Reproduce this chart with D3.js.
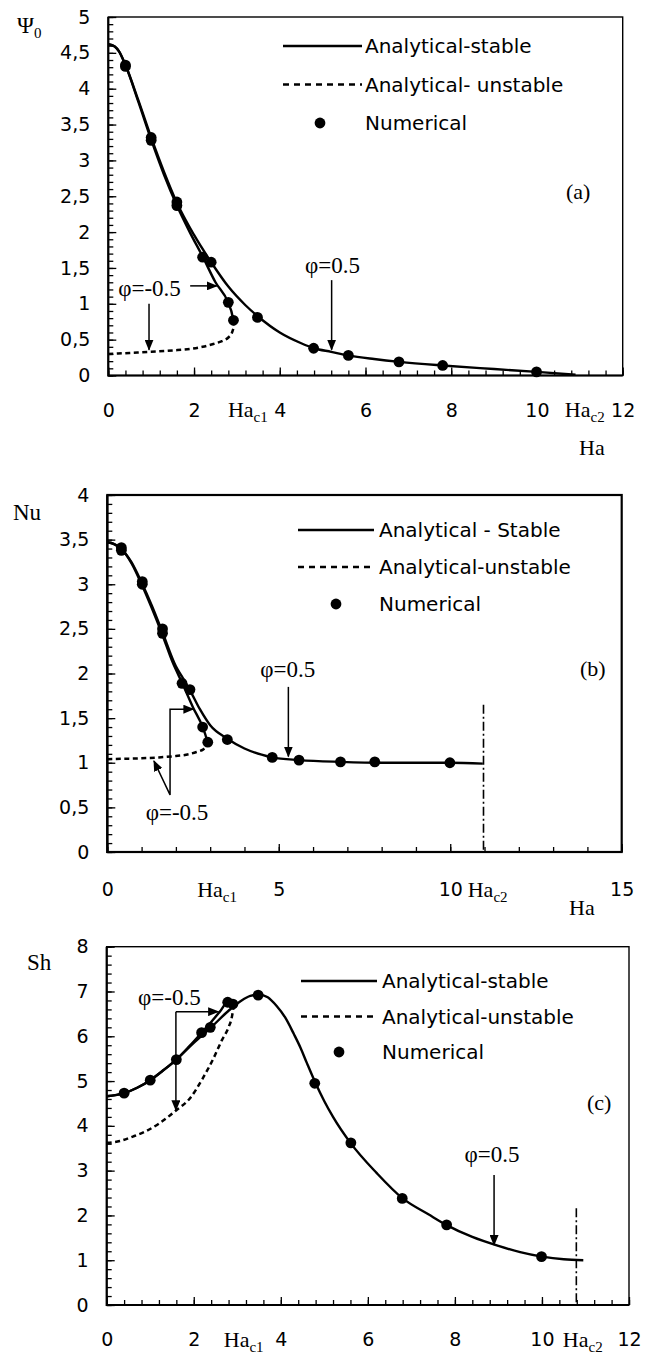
<!DOCTYPE html>
<html>
<head>
<meta charset="utf-8">
<script src="https://cdn.jsdelivr.net/npm/d3@7"></script>
<style>
body { margin: 0; background: #fff; }
svg { display: block; }
</style>
</head>
<body>
<div id="fig"></div>
<script>
// ---------- data ----------
// (a) stream function Psi0 vs Ha
const psiStable = [[0,4.62],[0.15,4.59],[0.25,4.52],[0.4,4.33],[0.7,3.84],[1.0,3.32],[1.3,2.84],[1.6,2.41],[2.0,1.96],[2.4,1.58],[2.8,1.24],[3.2,0.98],[3.5,0.82],[4.0,0.6],[4.5,0.45],[4.8,0.38],[5.2,0.33],[5.6,0.28],[6.2,0.23],[6.8,0.19],[7.8,0.14],[9.0,0.09],[10.0,0.05],[10.9,0.01]];
const psiStableNeg = [[0,4.62],[0.15,4.59],[0.25,4.52],[0.4,4.33],[0.7,3.82],[1.0,3.29],[1.3,2.8],[1.6,2.37],[1.9,2.0],[2.2,1.66],[2.5,1.3],[2.8,1.01],[2.9,0.82],[2.93,0.7]];
const psiUnstable = [[0,0.3],[0.5,0.315],[1.0,0.33],[1.5,0.35],[1.9,0.37],[2.2,0.4],[2.45,0.44],[2.65,0.48],[2.8,0.53],[2.88,0.59],[2.93,0.68]];
const psiNum = [[0.4,4.31],[0.4,4.33],[1.0,3.32],[1.0,3.28],[1.6,2.42],[1.6,2.37],[2.2,1.65],[2.4,1.58],[2.8,1.02],[2.92,0.77],[3.48,0.81],[4.79,0.38],[5.6,0.28],[6.78,0.19],[7.8,0.14],[9.99,0.05]];

// (b) Nusselt number vs Ha
const nuStable = [[0,3.47],[0.2,3.45],[0.4,3.4],[0.7,3.25],[1.0,3.02],[1.3,2.76],[1.6,2.47],[2.0,2.08],[2.2,1.95],[2.4,1.82],[2.7,1.6],[3.0,1.42],[3.5,1.27],[4.0,1.16],[4.5,1.09],[4.8,1.06],[5.6,1.03],[6.8,1.01],[8.0,1.0],[10.0,1.0],[10.95,0.99]];
const nuStableNeg = [[0,3.47],[0.2,3.45],[0.4,3.4],[0.7,3.24],[1.0,3.0],[1.3,2.73],[1.6,2.44],[1.9,2.13],[2.2,1.88],[2.5,1.62],[2.78,1.4],[2.9,1.26],[2.94,1.19]];
const nuUnstable = [[0,1.04],[0.5,1.045],[1.0,1.05],[1.5,1.06],[2.0,1.075],[2.3,1.09],[2.6,1.12],[2.8,1.15],[2.9,1.18],[2.94,1.2]];
const nuNum = [[0.41,3.41],[0.41,3.38],[1.02,3.03],[1.02,3.0],[1.61,2.5],[1.61,2.45],[2.18,1.89],[2.41,1.82],[2.78,1.4],[2.93,1.23],[3.5,1.26],[4.81,1.06],[5.59,1.03],[6.8,1.01],[7.8,1.01],[9.99,1.0]];

// (c) Sherwood number vs Ha
const shStable = [[0,4.66],[0.4,4.73],[0.7,4.85],[1.0,5.02],[1.3,5.24],[1.6,5.48],[2.0,5.85],[2.4,6.2],[2.8,6.57],[3.1,6.8],[3.3,6.9],[3.5,6.93],[3.7,6.87],[3.9,6.68],[4.1,6.42],[4.3,6.05],[4.45,5.75],[4.6,5.4],[4.8,4.95],[5.0,4.55],[5.2,4.2],[5.6,3.62],[6.2,2.95],[6.8,2.38],[7.4,2.02],[7.8,1.79],[8.4,1.52],[9.0,1.32],[9.5,1.18],[10.0,1.08],[10.5,1.02],[10.95,1.0]];
const shStableNeg = [[0,4.66],[0.4,4.73],[0.7,4.85],[1.0,5.02],[1.3,5.24],[1.6,5.48],[1.9,5.78],[2.18,6.08],[2.4,6.32],[2.6,6.55],[2.78,6.76],[2.92,6.72]];
const shUnstable = [[0,3.62],[0.3,3.66],[0.6,3.76],[0.9,3.88],[1.2,4.05],[1.6,4.35],[1.9,4.6],[2.2,5.05],[2.45,5.5],[2.65,5.92],[2.8,6.2],[2.88,6.45],[2.92,6.7]];
const shNum = [[0.4,4.73],[1.0,5.02],[1.6,5.48],[2.18,6.08],[2.38,6.2],[2.78,6.76],[2.9,6.72],[3.48,6.92],[4.78,4.95],[5.61,3.62],[6.79,2.38],[7.81,1.79],[9.99,1.08]];

// tick values and labels
const xTicksA = [0, 2, 4, 6, 8, 10, 12];
const xTicksB = [0, 5, 10, 15];
const xTicksC = [0, 2, 4, 6, 8, 10, 12];
const yTicksA = [0, 0.5, 1, 1.5, 2, 2.5, 3, 3.5, 4, 4.5, 5];
const yTicksB = [0, 0.5, 1, 1.5, 2, 2.5, 3, 3.5, 4];
const yTicksC = [0, 1, 2, 3, 4, 5, 6, 7, 8];
const critA = [{ha: 2.79, sub: 'c1'}, {ha: 10.65, sub: 'c2'}];
const critB = [{ha: 2.62, sub: 'c1'}, {ha: 10.51, sub: 'c2'}];
const critC = [{ha: 2.69, sub: 'c1'}, {ha: 10.48, sub: 'c2'}];
const legendA = ['Analytical-stable', 'Analytical- unstable', 'Numerical'];
const legendB = ['Analytical - Stable', 'Analytical-unstable', 'Numerical'];
const legendC = ['Analytical-stable', 'Analytical-unstable', 'Numerical'];

// annotations, in data units
const notesA = [{ha: 0.23, v: 1.11, t: 'φ=-0.5'}, {ha: 4.59, v: 1.43, t: 'φ=0.5'}];
const arrowsA = [[[1.91,1.25],[2.53,1.25]], [[0.95,1.0],[0.95,0.36]], [[5.21,1.33],[5.21,0.36]]];
const notesB = [{ha: 4.46, v: 1.96, t: 'φ=0.5'}, {ha: 1.12, v: 0.36, t: 'φ=-0.5'}];
const arrowsB = [[[5.28,1.85],[5.28,1.07]]];
const bracketB = [[2.51,1.6],[1.83,1.6],[1.83,0.64],[1.36,1.02]];
const notesC = [{ha: 0.72, v: 6.7, t: 'φ=-0.5'}, {ha: 8.22, v: 3.2, t: 'φ=0.5'}];
const arrowsC = [[[1.59,6.55],[2.56,6.55]], [[1.59,6.55],[1.59,4.35]], [[8.9,2.9],[8.9,1.34]]];
const dashDotB = [10.97, 1.65];
const dashDotC = [10.79, 2.16];

// ---------- drawing ----------
const width = 652;
const height = 1359;
const sans = 'DejaVu Sans, sans-serif';
const serif = 'Liberation Serif, Times New Roman, serif';
const commaFmt = d => String(d).replace('.', ',');

const svg = d3.select('#fig')
    .append('svg')
    .attr('width', width)
    .attr('height', height);

const defs = svg.append('defs');
defs.append('marker')
    .attr('id', 'head')
    .attr('markerUnits', 'userSpaceOnUse')
    .attr('markerWidth', 11)
    .attr('markerHeight', 9)
    .attr('refX', 10)
    .attr('refY', 4.5)
    .attr('orient', 'auto-start-reverse')
    .append('path')
    .attr('d', 'M0,0 L11,4.5 L0,9 Z')
    .attr('fill', '#000');

function drawPanel(p) {
    const x = d3.scaleLinear().domain([0, p.xMax]).range([p.left, p.right]);
    const y = d3.scaleLinear().domain([0, p.yMax]).range([p.bottom, p.top]);
    const g = svg.append('g');

    // frame
    g.append('rect')
     .attr('x', p.left).attr('y', p.top)
     .attr('width', p.right - p.left).attr('height', p.bottom - p.top)
     .attr('fill', 'none').attr('stroke', '#000').attr('stroke-width', p.frame);

    // minor ticks
    g.append('g')
     .attr('transform', 'translate(' + p.left + ',0)')
     .call(d3.axisLeft(y).tickValues(d3.range(0, p.yMax + 1e-9, p.yMinor)).tickSizeInner(-5).tickSizeOuter(0).tickFormat(''))
     .call(s => s.select('.domain').remove());
    g.append('g')
     .attr('transform', 'translate(0,' + p.bottom + ')')
     .call(d3.axisBottom(x).tickValues(d3.range(0, p.xMax + 1e-9, p.xMinor)).tickSizeInner(-5).tickSizeOuter(0).tickFormat(''))
     .call(s => s.select('.domain').remove());

    // major ticks + labels
    g.append('g')
     .attr('transform', 'translate(' + p.left + ',0)')
     .call(d3.axisLeft(y).tickValues(p.yTicks).tickSizeInner(-8).tickSizeOuter(0).tickPadding(18).tickFormat(commaFmt))
     .attr('font-family', sans).attr('font-size', 19)
     .call(s => s.select('.domain').remove());
    g.append('g')
     .attr('transform', 'translate(0,' + p.bottom + ')')
     .call(d3.axisBottom(x).tickValues(p.xTicks).tickSizeInner(-8).tickSizeOuter(0).tickPadding(p.xPad).tickFormat(d => d))
     .attr('font-family', sans).attr('font-size', 19)
     .call(s => s.select('.domain').remove());
    g.selectAll('.tick line').attr('stroke-width', 1.3);

    // heavier left and bottom axis lines
    g.append('path')
     .attr('d', 'M' + p.left + ',' + p.top + 'V' + p.bottom + 'H' + p.right)
     .attr('fill', 'none').attr('stroke', '#000').attr('stroke-width', 2.2);

    // critical Hartmann labels on the x axis
    const base = p.bottom + p.xPad + 13.5;
    p.crit.forEach(c => {
        const t = g.append('text')
                   .attr('x', x(c.ha)).attr('y', base)
                   .attr('font-family', serif).attr('font-size', 22)
                   .text('Ha');
        t.append('tspan').attr('font-size', 15).attr('dy', 5).text(c.sub);
    });

    // axis titles
    const yt = g.append('text')
                .attr('x', p.yTitle[0]).attr('y', p.yTitle[1])
                .attr('font-family', serif).attr('font-size', 23)
                .text(p.yName);
    if (p.ySub) {
        yt.append('tspan').attr('font-size', 15).attr('dy', 5).text(p.ySub);
    }
    if (p.xTitle) {
        g.append('text')
         .attr('x', p.xTitle[0]).attr('y', p.xTitle[1])
         .attr('font-family', serif).attr('font-size', 22)
         .text('Ha');
    }

    // panel tag
    g.append('text')
     .attr('x', p.tag[0]).attr('y', p.tag[1])
     .attr('font-family', serif).attr('font-size', 22)
     .text(p.tagText);

    // curves
    const line = d3.line().x(d => x(d[0])).y(d => y(d[1])).curve(d3.curveMonotoneX);
    g.append('path').datum(p.unstable).attr('d', line)
     .attr('fill', 'none').attr('stroke', '#000').attr('stroke-width', 2.5).attr('stroke-dasharray', '5,3.5');
    g.append('path').datum(p.stableNeg).attr('d', line)
     .attr('fill', 'none').attr('stroke', '#000').attr('stroke-width', 2.4);
    g.append('path').datum(p.stable).attr('d', line)
     .attr('fill', 'none').attr('stroke', '#000').attr('stroke-width', 2.4);

    g.selectAll('.num')
     .data(p.num)
     .enter()
     .append('circle')
     .attr('class', 'num')
     .attr('cx', d => x(d[0]))
     .attr('cy', d => y(d[1]))
     .attr('r', 5.4)
     .attr('fill', '#000');

    // dash-dot marker of Ha_c2
    if (p.dashDot) {
        g.append('line')
         .attr('x1', x(p.dashDot[0])).attr('x2', x(p.dashDot[0]))
         .attr('y1', y(p.dashDot[1])).attr('y2', y(0))
         .attr('stroke', '#000').attr('stroke-width', 1.6)
         .attr('stroke-dasharray', '9,3,2,3');
    }

    // annotations
    p.notes.forEach(n => {
        g.append('text')
         .attr('x', x(n.ha)).attr('y', y(n.v))
         .attr('font-family', serif).attr('font-size', 23)
         .text(n.t);
    });
    const pline = d3.line().x(d => x(d[0])).y(d => y(d[1]));
    p.arrows.forEach(a => {
        g.append('path').attr('d', pline(a))
         .attr('fill', 'none').attr('stroke', '#000').attr('stroke-width', 1.5)
         .attr('marker-end', 'url(#head)');
    });
    if (p.bracket) {
        g.append('path').attr('d', pline(p.bracket))
         .attr('fill', 'none').attr('stroke', '#000').attr('stroke-width', 1.5)
         .attr('marker-start', 'url(#head)').attr('marker-end', 'url(#head)');
    }

    // legend
    const L = p.legend;
    g.append('line')
     .attr('x1', L.x0).attr('x2', L.x1).attr('y1', L.y).attr('y2', L.y)
     .attr('stroke', '#000').attr('stroke-width', 2.4);
    g.append('line')
     .attr('x1', L.x0).attr('x2', L.x1).attr('y1', L.y + L.dy).attr('y2', L.y + L.dy)
     .attr('stroke', '#000').attr('stroke-width', 2.5).attr('stroke-dasharray', '6,5');
    g.append('circle')
     .attr('cx', L.dot).attr('cy', L.y + 2 * L.dy).attr('r', 5.4).attr('fill', '#000');
    p.labels.forEach((t, i) => {
        g.append('text')
         .attr('x', L.tx).attr('y', L.y + i * L.dy)
         .attr('dy', '0.36em')
         .attr('font-family', sans).attr('font-size', 20)
         .text(t);
    });
}

drawPanel({
    left: 108.3, right: 622.7, top: 17, bottom: 375.5, frame: 1.4,
    xMax: 12, yMax: 5, xMinor: 0.4, yMinor: 0.1, xPad: 28,
    xTicks: xTicksA, yTicks: yTicksA, crit: critA,
    yName: 'Ψ', ySub: '0', yTitle: [17, 33], xTitle: [579, 455],
    tag: [566, 199], tagText: '(a)',
    stable: psiStable, stableNeg: psiStableNeg, unstable: psiUnstable, num: psiNum,
    notes: notesA, arrows: arrowsA,
    legend: {x0: 283, x1: 362, tx: 365, dot: 320, y: 46, dy: 38.5},
    labels: legendA
});

drawPanel({
    left: 107.3, right: 621.7, top: 495, bottom: 852, frame: 2.2,
    xMax: 15, yMax: 4, xMinor: 1, yMinor: 0.1, xPad: 31,
    xTicks: xTicksB, yTicks: yTicksB, crit: critB,
    yName: 'Nu', yTitle: [13, 520], xTitle: [569, 915],
    tag: [580, 676], tagText: '(b)',
    stable: nuStable, stableNeg: nuStableNeg, unstable: nuUnstable, num: nuNum,
    notes: notesB, arrows: arrowsB, bracket: bracketB, dashDot: dashDotB,
    legend: {x0: 298, x1: 374, tx: 379, dot: 336, y: 530, dy: 37},
    labels: legendB
});

drawPanel({
    left: 106.7, right: 629, top: 946.7, bottom: 1305, frame: 1.4,
    xMax: 12, yMax: 8, xMinor: 0.4, yMinor: 0.2, xPad: 28,
    xTicks: xTicksC, yTicks: yTicksC, crit: critC,
    yName: 'Sh', yTitle: [27, 970],
    tag: [587, 1110], tagText: '(c)',
    stable: shStable, stableNeg: shStableNeg, unstable: shUnstable, num: shNum,
    notes: notesC, arrows: arrowsC, dashDot: dashDotC,
    legend: {x0: 301, x1: 377, tx: 382, dot: 339, y: 981, dy: 35.5},
    labels: legendC
});
</script>
</body>
</html>
